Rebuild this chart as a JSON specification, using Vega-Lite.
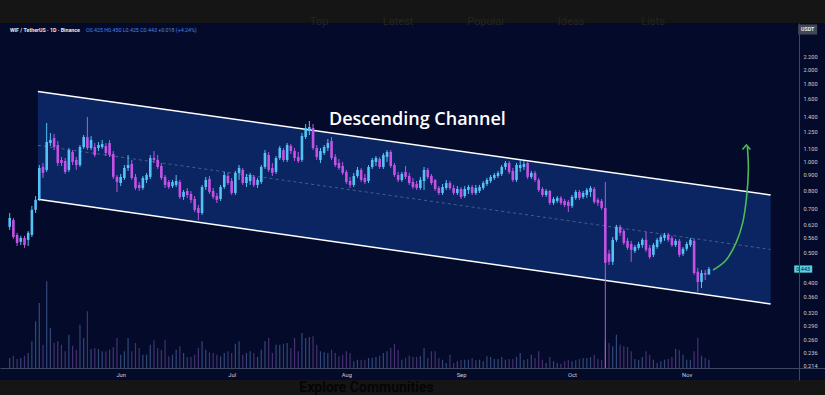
{
  "$schema": "https://vega.github.io/schema/vega-lite/v6.json",
  "width": 825,
  "height": 357,
  "autosize": {"type": "none"},
  "padding": {"left": 0, "right": 0, "top": 23, "bottom": 15},
  "background": "#151515",
  "view": {"fill": "#040b2a", "stroke": null},
  "config": {
    "font": "Roboto",
    "axis": {"grid": false, "ticks": false, "labelFont": "Roboto", "labelFontSize": 5.6, "labelColor": "#c9cdd6", "domainColor": "#3f4760", "domainWidth": 1}
  },
  "datasets": {
    "candles": [
      {"t":"2025-05-02","o":0.609,"h":0.676,"l":0.595,"c":0.651,"v":10},
      {"t":"2025-05-03","o":0.641,"h":0.651,"l":0.556,"c":0.564,"v":12.3},
      {"t":"2025-05-04","o":0.573,"h":0.582,"l":0.527,"c":0.539,"v":9},
      {"t":"2025-05-05","o":0.544,"h":0.569,"l":0.531,"c":0.560,"v":10},
      {"t":"2025-05-06","o":0.560,"h":0.569,"l":0.520,"c":0.531,"v":12.3},
      {"t":"2025-05-07","o":0.552,"h":0.590,"l":0.527,"c":0.582,"v":15},
      {"t":"2025-05-08","o":0.573,"h":0.713,"l":0.564,"c":0.692,"v":26.7},
      {"t":"2025-05-09","o":0.692,"h":0.768,"l":0.676,"c":0.746,"v":46.7},
      {"t":"2025-05-10","o":0.751,"h":0.970,"l":0.740,"c":0.949,"v":65},
      {"t":"2025-05-11","o":0.956,"h":0.985,"l":0.880,"c":0.914,"v":23.3},
      {"t":"2025-05-12","o":0.935,"h":1.332,"l":0.921,"c":1.154,"v":86.7},
      {"t":"2025-05-13","o":1.145,"h":1.235,"l":1.120,"c":1.172,"v":40},
      {"t":"2025-05-14","o":1.189,"h":1.226,"l":1.086,"c":1.111,"v":25},
      {"t":"2025-05-15","o":1.128,"h":1.163,"l":0.963,"c":0.985,"v":26.7},
      {"t":"2025-05-16","o":1.008,"h":1.031,"l":0.963,"c":0.985,"v":23.3},
      {"t":"2025-05-17","o":1.000,"h":1.023,"l":0.907,"c":0.921,"v":16.7},
      {"t":"2025-05-18","o":0.935,"h":1.103,"l":0.921,"c":1.086,"v":33.3},
      {"t":"2025-05-19","o":1.070,"h":1.086,"l":0.970,"c":0.993,"v":22.3},
      {"t":"2025-05-20","o":1.008,"h":1.031,"l":0.935,"c":0.970,"v":18.3},
      {"t":"2025-05-21","o":0.970,"h":1.128,"l":0.956,"c":1.111,"v":43.3},
      {"t":"2025-05-22","o":1.111,"h":1.216,"l":1.095,"c":1.198,"v":30},
      {"t":"2025-05-23","o":1.198,"h":1.393,"l":1.086,"c":1.103,"v":56.7},
      {"t":"2025-05-24","o":1.103,"h":1.207,"l":1.086,"c":1.172,"v":19},
      {"t":"2025-05-25","o":1.111,"h":1.145,"l":1.031,"c":1.046,"v":20},
      {"t":"2025-05-26","o":1.103,"h":1.154,"l":1.078,"c":1.128,"v":19},
      {"t":"2025-05-27","o":1.111,"h":1.172,"l":1.095,"c":1.137,"v":16.7},
      {"t":"2025-05-28","o":1.120,"h":1.145,"l":1.038,"c":1.062,"v":16.7},
      {"t":"2025-05-29","o":1.145,"h":1.172,"l":1.031,"c":1.046,"v":18.3},
      {"t":"2025-05-30","o":1.054,"h":1.078,"l":0.873,"c":0.887,"v":20.7},
      {"t":"2025-05-31","o":0.887,"h":0.900,"l":0.792,"c":0.854,"v":30},
      {"t":"2025-06-01","o":0.847,"h":0.907,"l":0.828,"c":0.887,"v":13.3},
      {"t":"2025-06-02","o":0.880,"h":0.970,"l":0.867,"c":0.949,"v":16.7},
      {"t":"2025-06-03","o":0.949,"h":1.046,"l":0.928,"c":0.970,"v":30},
      {"t":"2025-06-04","o":0.978,"h":1.008,"l":0.867,"c":0.880,"v":16.7},
      {"t":"2025-06-05","o":0.887,"h":0.907,"l":0.804,"c":0.816,"v":25},
      {"t":"2025-06-06","o":0.835,"h":0.854,"l":0.798,"c":0.816,"v":20},
      {"t":"2025-06-07","o":0.816,"h":0.893,"l":0.804,"c":0.880,"v":13.3},
      {"t":"2025-06-08","o":0.867,"h":0.914,"l":0.847,"c":0.900,"v":13.3},
      {"t":"2025-06-09","o":0.887,"h":1.046,"l":0.873,"c":1.023,"v":23.3},
      {"t":"2025-06-10","o":1.023,"h":1.078,"l":0.985,"c":1.008,"v":27.7},
      {"t":"2025-06-11","o":1.008,"h":1.046,"l":0.942,"c":0.956,"v":20},
      {"t":"2025-06-12","o":0.963,"h":0.985,"l":0.867,"c":0.880,"v":18.3},
      {"t":"2025-06-13","o":0.887,"h":0.900,"l":0.816,"c":0.835,"v":28.3},
      {"t":"2025-06-14","o":0.854,"h":0.867,"l":0.810,"c":0.822,"v":11.7},
      {"t":"2025-06-15","o":0.828,"h":0.867,"l":0.816,"c":0.854,"v":13.3},
      {"t":"2025-06-16","o":0.835,"h":0.900,"l":0.822,"c":0.860,"v":18.3},
      {"t":"2025-06-17","o":0.854,"h":0.867,"l":0.751,"c":0.763,"v":21.7},
      {"t":"2025-06-18","o":0.763,"h":0.804,"l":0.746,"c":0.792,"v":15},
      {"t":"2025-06-19","o":0.798,"h":0.816,"l":0.757,"c":0.774,"v":11},
      {"t":"2025-06-20","o":0.780,"h":0.798,"l":0.729,"c":0.746,"v":11},
      {"t":"2025-06-21","o":0.751,"h":0.768,"l":0.681,"c":0.692,"v":13.3},
      {"t":"2025-06-22","o":0.702,"h":0.718,"l":0.641,"c":0.676,"v":20},
      {"t":"2025-06-23","o":0.676,"h":0.835,"l":0.666,"c":0.822,"v":26.7},
      {"t":"2025-06-24","o":0.822,"h":0.887,"l":0.804,"c":0.867,"v":18.3},
      {"t":"2025-06-25","o":0.873,"h":0.893,"l":0.780,"c":0.792,"v":15.7},
      {"t":"2025-06-26","o":0.798,"h":0.816,"l":0.751,"c":0.763,"v":15},
      {"t":"2025-06-27","o":0.768,"h":0.786,"l":0.729,"c":0.746,"v":13.3},
      {"t":"2025-06-28","o":0.751,"h":0.835,"l":0.740,"c":0.822,"v":11.7},
      {"t":"2025-06-29","o":0.822,"h":0.921,"l":0.810,"c":0.900,"v":15},
      {"t":"2025-06-30","o":0.893,"h":0.914,"l":0.835,"c":0.847,"v":16.7},
      {"t":"2025-07-01","o":0.860,"h":0.880,"l":0.774,"c":0.786,"v":15},
      {"t":"2025-07-02","o":0.786,"h":0.928,"l":0.774,"c":0.914,"v":24.3},
      {"t":"2025-07-03","o":0.914,"h":0.970,"l":0.867,"c":0.949,"v":26.7},
      {"t":"2025-07-04","o":0.935,"h":0.949,"l":0.835,"c":0.847,"v":13.3},
      {"t":"2025-07-05","o":0.847,"h":0.907,"l":0.822,"c":0.887,"v":15},
      {"t":"2025-07-06","o":0.860,"h":0.914,"l":0.835,"c":0.900,"v":16.7},
      {"t":"2025-07-07","o":0.887,"h":0.900,"l":0.822,"c":0.835,"v":15},
      {"t":"2025-07-08","o":0.835,"h":0.880,"l":0.816,"c":0.867,"v":11},
      {"t":"2025-07-09","o":0.854,"h":0.970,"l":0.841,"c":0.956,"v":18.3},
      {"t":"2025-07-10","o":0.956,"h":1.086,"l":0.942,"c":1.062,"v":26.7},
      {"t":"2025-07-11","o":1.046,"h":1.070,"l":0.921,"c":0.935,"v":30},
      {"t":"2025-07-12","o":0.949,"h":0.985,"l":0.893,"c":0.914,"v":15},
      {"t":"2025-07-13","o":0.921,"h":1.038,"l":0.907,"c":1.023,"v":23.3},
      {"t":"2025-07-14","o":1.023,"h":1.120,"l":1.008,"c":1.103,"v":23.3},
      {"t":"2025-07-15","o":1.086,"h":1.103,"l":0.993,"c":1.008,"v":24.3},
      {"t":"2025-07-16","o":1.008,"h":1.145,"l":0.993,"c":1.128,"v":25},
      {"t":"2025-07-17","o":1.120,"h":1.137,"l":1.054,"c":1.078,"v":20},
      {"t":"2025-07-18","o":1.078,"h":1.103,"l":1.000,"c":1.023,"v":30},
      {"t":"2025-07-19","o":1.031,"h":1.070,"l":0.985,"c":1.000,"v":16.7},
      {"t":"2025-07-20","o":1.008,"h":1.235,"l":0.993,"c":1.207,"v":35},
      {"t":"2025-07-21","o":1.198,"h":1.322,"l":1.180,"c":1.282,"v":30},
      {"t":"2025-07-22","o":1.254,"h":1.352,"l":1.216,"c":1.292,"v":31},
      {"t":"2025-07-23","o":1.282,"h":1.322,"l":1.086,"c":1.103,"v":31.7},
      {"t":"2025-07-24","o":1.103,"h":1.128,"l":1.008,"c":1.031,"v":23.3},
      {"t":"2025-07-25","o":1.008,"h":1.103,"l":0.985,"c":1.078,"v":16.7},
      {"t":"2025-07-26","o":1.062,"h":1.128,"l":1.046,"c":1.111,"v":15.7},
      {"t":"2025-07-27","o":1.103,"h":1.180,"l":1.078,"c":1.145,"v":15},
      {"t":"2025-07-28","o":1.163,"h":1.198,"l":1.008,"c":1.023,"v":18.3},
      {"t":"2025-07-29","o":1.031,"h":1.054,"l":0.956,"c":0.970,"v":15},
      {"t":"2025-07-30","o":0.985,"h":1.015,"l":0.935,"c":0.949,"v":11.7},
      {"t":"2025-07-31","o":0.963,"h":0.993,"l":0.900,"c":0.914,"v":13.3},
      {"t":"2025-08-01","o":0.921,"h":0.935,"l":0.841,"c":0.854,"v":16.7},
      {"t":"2025-08-02","o":0.860,"h":0.887,"l":0.816,"c":0.835,"v":15},
      {"t":"2025-08-03","o":0.835,"h":0.914,"l":0.822,"c":0.893,"v":6.7},
      {"t":"2025-08-04","o":0.893,"h":0.956,"l":0.880,"c":0.935,"v":8.3},
      {"t":"2025-08-05","o":0.935,"h":0.949,"l":0.854,"c":0.867,"v":8.3},
      {"t":"2025-08-06","o":0.880,"h":0.907,"l":0.841,"c":0.854,"v":7.7},
      {"t":"2025-08-07","o":0.860,"h":0.970,"l":0.847,"c":0.956,"v":10},
      {"t":"2025-08-08","o":0.956,"h":1.023,"l":0.942,"c":1.008,"v":10},
      {"t":"2025-08-09","o":0.993,"h":1.038,"l":0.963,"c":1.023,"v":11},
      {"t":"2025-08-10","o":1.015,"h":1.031,"l":0.942,"c":0.956,"v":12.3},
      {"t":"2025-08-11","o":0.956,"h":1.062,"l":0.942,"c":1.046,"v":15},
      {"t":"2025-08-12","o":1.031,"h":1.086,"l":0.993,"c":1.070,"v":16.7},
      {"t":"2025-08-13","o":1.070,"h":1.086,"l":0.949,"c":0.963,"v":20},
      {"t":"2025-08-14","o":0.970,"h":0.985,"l":0.887,"c":0.900,"v":24.3},
      {"t":"2025-08-15","o":0.900,"h":0.921,"l":0.854,"c":0.867,"v":18.3},
      {"t":"2025-08-16","o":0.867,"h":0.921,"l":0.854,"c":0.907,"v":8.3},
      {"t":"2025-08-17","o":0.921,"h":0.963,"l":0.873,"c":0.887,"v":10},
      {"t":"2025-08-18","o":0.893,"h":0.914,"l":0.835,"c":0.847,"v":12.3},
      {"t":"2025-08-19","o":0.854,"h":0.880,"l":0.810,"c":0.822,"v":11},
      {"t":"2025-08-20","o":0.841,"h":0.860,"l":0.804,"c":0.816,"v":11},
      {"t":"2025-08-21","o":0.816,"h":0.887,"l":0.804,"c":0.867,"v":12},
      {"t":"2025-08-22","o":0.860,"h":0.956,"l":0.804,"c":0.935,"v":20},
      {"t":"2025-08-23","o":0.935,"h":0.949,"l":0.873,"c":0.887,"v":10},
      {"t":"2025-08-24","o":0.893,"h":0.907,"l":0.835,"c":0.847,"v":16.7},
      {"t":"2025-08-25","o":0.867,"h":0.873,"l":0.798,"c":0.810,"v":16.7},
      {"t":"2025-08-26","o":0.816,"h":0.828,"l":0.774,"c":0.786,"v":10},
      {"t":"2025-08-27","o":0.786,"h":0.841,"l":0.774,"c":0.822,"v":8.3},
      {"t":"2025-08-28","o":0.816,"h":0.867,"l":0.804,"c":0.847,"v":5},
      {"t":"2025-08-29","o":0.847,"h":0.860,"l":0.804,"c":0.816,"v":13.3},
      {"t":"2025-08-30","o":0.816,"h":0.835,"l":0.774,"c":0.786,"v":5},
      {"t":"2025-08-31","o":0.786,"h":0.828,"l":0.774,"c":0.810,"v":6.7},
      {"t":"2025-09-01","o":0.810,"h":0.822,"l":0.751,"c":0.763,"v":8.3},
      {"t":"2025-09-02","o":0.768,"h":0.828,"l":0.757,"c":0.810,"v":8.3},
      {"t":"2025-09-03","o":0.804,"h":0.835,"l":0.780,"c":0.822,"v":8.3},
      {"t":"2025-09-04","o":0.822,"h":0.835,"l":0.774,"c":0.786,"v":10},
      {"t":"2025-09-05","o":0.786,"h":0.835,"l":0.774,"c":0.816,"v":7.7},
      {"t":"2025-09-06","o":0.798,"h":0.835,"l":0.786,"c":0.822,"v":8.3},
      {"t":"2025-09-07","o":0.816,"h":0.860,"l":0.804,"c":0.847,"v":6.7},
      {"t":"2025-09-08","o":0.841,"h":0.880,"l":0.828,"c":0.867,"v":11.7},
      {"t":"2025-09-09","o":0.860,"h":0.900,"l":0.847,"c":0.887,"v":11},
      {"t":"2025-09-10","o":0.880,"h":0.914,"l":0.867,"c":0.900,"v":9},
      {"t":"2025-09-11","o":0.893,"h":0.928,"l":0.880,"c":0.914,"v":9},
      {"t":"2025-09-12","o":0.907,"h":0.970,"l":0.893,"c":0.956,"v":11},
      {"t":"2025-09-13","o":0.956,"h":1.000,"l":0.935,"c":0.985,"v":8.3},
      {"t":"2025-09-14","o":0.985,"h":1.000,"l":0.907,"c":0.921,"v":9},
      {"t":"2025-09-15","o":0.928,"h":0.949,"l":0.854,"c":0.867,"v":9},
      {"t":"2025-09-16","o":0.867,"h":0.985,"l":0.854,"c":0.970,"v":11},
      {"t":"2025-09-17","o":0.949,"h":1.008,"l":0.921,"c":0.970,"v":15},
      {"t":"2025-09-18","o":0.956,"h":1.000,"l":0.935,"c":0.978,"v":8.3},
      {"t":"2025-09-19","o":0.985,"h":1.000,"l":0.873,"c":0.887,"v":9},
      {"t":"2025-09-20","o":0.887,"h":0.928,"l":0.873,"c":0.914,"v":13.3},
      {"t":"2025-09-21","o":0.914,"h":0.928,"l":0.854,"c":0.867,"v":10},
      {"t":"2025-09-22","o":0.867,"h":0.880,"l":0.792,"c":0.804,"v":16.7},
      {"t":"2025-09-23","o":0.810,"h":0.822,"l":0.763,"c":0.774,"v":8.3},
      {"t":"2025-09-24","o":0.774,"h":0.810,"l":0.763,"c":0.798,"v":5},
      {"t":"2025-09-25","o":0.798,"h":0.804,"l":0.718,"c":0.729,"v":11},
      {"t":"2025-09-26","o":0.729,"h":0.763,"l":0.718,"c":0.751,"v":6.7},
      {"t":"2025-09-27","o":0.740,"h":0.768,"l":0.729,"c":0.757,"v":5},
      {"t":"2025-09-28","o":0.757,"h":0.768,"l":0.718,"c":0.729,"v":4.3},
      {"t":"2025-09-29","o":0.740,"h":0.751,"l":0.707,"c":0.718,"v":6.7},
      {"t":"2025-09-30","o":0.734,"h":0.746,"l":0.681,"c":0.713,"v":8.3},
      {"t":"2025-10-01","o":0.713,"h":0.774,"l":0.702,"c":0.763,"v":6.7},
      {"t":"2025-10-02","o":0.757,"h":0.804,"l":0.746,"c":0.792,"v":7.7},
      {"t":"2025-10-03","o":0.792,"h":0.804,"l":0.746,"c":0.757,"v":9},
      {"t":"2025-10-04","o":0.763,"h":0.798,"l":0.751,"c":0.786,"v":10},
      {"t":"2025-10-05","o":0.774,"h":0.816,"l":0.757,"c":0.804,"v":10},
      {"t":"2025-10-06","o":0.792,"h":0.828,"l":0.763,"c":0.816,"v":11},
      {"t":"2025-10-07","o":0.810,"h":0.822,"l":0.724,"c":0.734,"v":13.3},
      {"t":"2025-10-08","o":0.746,"h":0.757,"l":0.713,"c":0.729,"v":9},
      {"t":"2025-10-09","o":0.740,"h":0.751,"l":0.692,"c":0.702,"v":8.3},
      {"t":"2025-10-10","o":0.702,"h":0.854,"l":0.21,"c":0.464,"v":28},
      {"t":"2025-10-11","o":0.497,"h":0.512,"l":0.457,"c":0.468,"v":25},
      {"t":"2025-10-12","o":0.468,"h":0.564,"l":0.457,"c":0.552,"v":21.7},
      {"t":"2025-10-13","o":0.552,"h":0.618,"l":0.544,"c":0.609,"v":33.3},
      {"t":"2025-10-14","o":0.609,"h":0.618,"l":0.569,"c":0.582,"v":23.3},
      {"t":"2025-10-15","o":0.590,"h":0.599,"l":0.531,"c":0.539,"v":21.7},
      {"t":"2025-10-16","o":0.548,"h":0.560,"l":0.512,"c":0.520,"v":21},
      {"t":"2025-10-17","o":0.535,"h":0.548,"l":0.468,"c":0.512,"v":16.7},
      {"t":"2025-10-18","o":0.508,"h":0.531,"l":0.500,"c":0.523,"v":9},
      {"t":"2025-10-19","o":0.520,"h":0.544,"l":0.512,"c":0.535,"v":8.3},
      {"t":"2025-10-20","o":0.531,"h":0.560,"l":0.520,"c":0.552,"v":11},
      {"t":"2025-10-21","o":0.552,"h":0.586,"l":0.504,"c":0.512,"v":16.7},
      {"t":"2025-10-22","o":0.520,"h":0.531,"l":0.478,"c":0.485,"v":13.3},
      {"t":"2025-10-23","o":0.493,"h":0.539,"l":0.485,"c":0.531,"v":8.3},
      {"t":"2025-10-24","o":0.523,"h":0.560,"l":0.516,"c":0.552,"v":5},
      {"t":"2025-10-25","o":0.544,"h":0.573,"l":0.535,"c":0.564,"v":6.7},
      {"t":"2025-10-26","o":0.560,"h":0.582,"l":0.548,"c":0.573,"v":8.3},
      {"t":"2025-10-27","o":0.573,"h":0.582,"l":0.544,"c":0.552,"v":9},
      {"t":"2025-10-28","o":0.560,"h":0.569,"l":0.523,"c":0.531,"v":11},
      {"t":"2025-10-29","o":0.531,"h":0.556,"l":0.523,"c":0.548,"v":19},
      {"t":"2025-10-30","o":0.548,"h":0.556,"l":0.485,"c":0.493,"v":17.7},
      {"t":"2025-10-31","o":0.497,"h":0.523,"l":0.489,"c":0.516,"v":13.3},
      {"t":"2025-11-01","o":0.516,"h":0.544,"l":0.508,"c":0.535,"v":8.3},
      {"t":"2025-11-02","o":0.531,"h":0.560,"l":0.523,"c":0.552,"v":8.3},
      {"t":"2025-11-03","o":0.548,"h":0.556,"l":0.424,"c":0.430,"v":16.7},
      {"t":"2025-11-04","o":0.434,"h":0.447,"l":0.373,"c":0.402,"v":30},
      {"t":"2025-11-05","o":0.402,"h":0.440,"l":0.384,"c":0.430,"v":12.3},
      {"t":"2025-11-06","o":0.430,"h":0.440,"l":0.408,"c":0.425,"v":10},
      {"t":"2025-11-07","o":0.425,"h":0.450,"l":0.425,"c":0.443,"v":8.3}
    ],
    "channel": [
      {"t":"2025-05-09T15:00:00Z","up":1.688,"mid":1.125,"lo":0.7495},
      {"t":"2025-11-23T16:20:00Z","up":0.774,"mid":0.5136,"lo":0.3404}
    ],
    "arrow": [
      {"i":1,"t":"2025-11-08T02:40:00Z","p":0.440},
      {"i":2,"t":"2025-11-11T15:50:00Z","p":0.4746},
      {"i":3,"t":"2025-11-14T08:00:00Z","p":0.5394},
      {"i":4,"t":"2025-11-16T03:00:00Z","p":0.6271},
      {"i":5,"t":"2025-11-17T04:30:00Z","p":0.7626},
      {"i":6,"t":"2025-11-17T16:00:00Z","p":0.9345},
      {"i":7,"t":"2025-11-17T09:40:00Z","p":1.1113}
    ]
  },
  "layer": [
    {
      "data": {"name": "channel"},
      "mark": {"type": "area", "fill": "#0a2561", "opacity": 1},
      "encoding": {
        "x": {"field": "t", "type": "temporal", "title": null, "scale": {"type": "utc", "domain": [{"year":2025,"month":"apr","date":30,"hours":17,"minutes":36,"utc":true},{"year":2025,"month":"dec","date":7,"hours":0,"minutes":40,"utc":true}]},
          "axis": {"orient": "bottom", "offset": -12, "zindex": 1, "format": "%b", "labelPadding": 3, "labelFontSize": 5.8, "labelFlush": false, "labelOverlap": false,
            "values": [{"year":2025,"month":"jun","date":1,"utc":true},{"year":2025,"month":"jul","date":1,"utc":true},{"year":2025,"month":"aug","date":1,"utc":true},{"year":2025,"month":"sep","date":1,"utc":true},{"year":2025,"month":"oct","date":1,"utc":true},{"year":2025,"month":"nov","date":1,"utc":true}]}},
        "y": {"field": "up", "type": "quantitative", "title": null, "scale": {"type": "log", "domain": [0.192, 2.829], "nice": false, "zero": false},
          "axis": {"orient": "right", "offset": -26, "zindex": 1, "format": ".3f", "labelPadding": 4, "labelAlign": "left", "labelOverlap": false, "labelFlush": false, "labelBound": false,
            "values": [2.2, 2.0, 1.8, 1.6, 1.4, 1.25, 1.1, 1.0, 0.9, 0.8, 0.7, 0.62, 0.56, 0.5, 0.4, 0.36, 0.32, 0.29, 0.26, 0.236, 0.214]}},
        "y2": {"field": "lo"}
      }
    },
    {
      "data": {"name": "candles"},
      "mark": {"type": "rule", "strokeWidth": 1.2, "opacity": 0.5},
      "encoding": {
        "x": {"field": "t", "type": "temporal", "title": null, "scale": {"type": "utc", "domain": [{"year":2025,"month":"apr","date":30,"hours":17,"minutes":36,"utc":true},{"year":2025,"month":"dec","date":7,"hours":0,"minutes":40,"utc":true}]}},
        "y": {"field": "v", "type": "quantitative", "title": null, "axis": null, "scale": {"domain": [-12, 345], "nice": false, "zero": false}},
        "y2": {"datum": 0},
        "color": {"condition": {"test": "datum.c >= datum.o", "value": "#5f86c8"}, "value": "#8a55b8"}
      }
    },
    {
      "data": {"name": "channel"},
      "mark": {"type": "line", "stroke": "#8e9ab8", "strokeWidth": 0.8, "strokeDash": [3, 3], "opacity": 0.6},
      "encoding": {
        "x": {"field": "t", "type": "temporal", "title": null, "scale": {"type": "utc", "domain": [{"year":2025,"month":"apr","date":30,"hours":17,"minutes":36,"utc":true},{"year":2025,"month":"dec","date":7,"hours":0,"minutes":40,"utc":true}]}},
        "y": {"field": "mid", "type": "quantitative", "title": null, "axis": null, "scale": {"type": "log", "domain": [0.192, 2.829], "nice": false, "zero": false}}
      }
    },
    {
      "data": {"name": "channel"},
      "mark": {"type": "line", "stroke": "#ffffff", "strokeWidth": 1.5},
      "encoding": {
        "x": {"field": "t", "type": "temporal", "title": null, "scale": {"type": "utc", "domain": [{"year":2025,"month":"apr","date":30,"hours":17,"minutes":36,"utc":true},{"year":2025,"month":"dec","date":7,"hours":0,"minutes":40,"utc":true}]}},
        "y": {"field": "up", "type": "quantitative", "title": null, "axis": null, "scale": {"type": "log", "domain": [0.192, 2.829], "nice": false, "zero": false}}
      }
    },
    {
      "data": {"name": "channel"},
      "mark": {"type": "line", "stroke": "#ffffff", "strokeWidth": 1.5},
      "encoding": {
        "x": {"field": "t", "type": "temporal", "title": null, "scale": {"type": "utc", "domain": [{"year":2025,"month":"apr","date":30,"hours":17,"minutes":36,"utc":true},{"year":2025,"month":"dec","date":7,"hours":0,"minutes":40,"utc":true}]}},
        "y": {"field": "lo", "type": "quantitative", "title": null, "axis": null, "scale": {"type": "log", "domain": [0.192, 2.829], "nice": false, "zero": false}}
      }
    },
    {
      "data": {"name": "candles"},
      "mark": {"type": "rule", "strokeWidth": 1},
      "encoding": {
        "x": {"field": "t", "type": "temporal", "title": null, "scale": {"type": "utc", "domain": [{"year":2025,"month":"apr","date":30,"hours":17,"minutes":36,"utc":true},{"year":2025,"month":"dec","date":7,"hours":0,"minutes":40,"utc":true}]}},
        "y": {"field": "l", "type": "quantitative", "title": null, "axis": null, "scale": {"type": "log", "domain": [0.192, 2.829], "nice": false, "zero": false}},
        "y2": {"field": "h"},
        "color": {"condition": {"test": "datum.c >= datum.o", "value": "#55c2f5"}, "value": "#c452e6"}
      }
    },
    {
      "data": {"name": "candles"},
      "mark": {"type": "bar", "width": 2.6},
      "encoding": {
        "x": {"field": "t", "type": "temporal", "title": null, "scale": {"type": "utc", "domain": [{"year":2025,"month":"apr","date":30,"hours":17,"minutes":36,"utc":true},{"year":2025,"month":"dec","date":7,"hours":0,"minutes":40,"utc":true}]}},
        "y": {"field": "o", "type": "quantitative", "title": null, "axis": null, "scale": {"type": "log", "domain": [0.192, 2.829], "nice": false, "zero": false}},
        "y2": {"field": "c"},
        "color": {"condition": {"test": "datum.c >= datum.o", "value": "#55c2f5"}, "value": "#c452e6"}
      }
    },
    {
      "data": {"name": "arrow"},
      "mark": {"type": "line", "stroke": "#4dbb55", "strokeWidth": 1.6, "interpolate": "cardinal"},
      "encoding": {
        "x": {"field": "t", "type": "temporal", "title": null, "scale": {"type": "utc", "domain": [{"year":2025,"month":"apr","date":30,"hours":17,"minutes":36,"utc":true},{"year":2025,"month":"dec","date":7,"hours":0,"minutes":40,"utc":true}]}},
        "y": {"field": "p", "type": "quantitative", "title": null, "axis": null, "scale": {"type": "log", "domain": [0.192, 2.829], "nice": false, "zero": false}},
        "order": {"field": "i"}
      }
    },
    {
      "data": {"values": [{}]},
      "mark": {"type": "point", "shape": "M-0.75,0.85L0,0L0.75,0.85", "filled": false, "stroke": "#4dbb55", "strokeWidth": 1.5, "size": 110, "opacity": 1},
      "encoding": {
        "x": {"datum": {"year":2025,"month":"nov","date":17,"hours":3,"minutes":10,"utc":true}, "type": "temporal", "title": null, "scale": {"type": "utc", "domain": [{"year":2025,"month":"apr","date":30,"hours":17,"minutes":36,"utc":true},{"year":2025,"month":"dec","date":7,"hours":0,"minutes":40,"utc":true}]}},
        "y": {"datum": 1.1281, "type": "quantitative", "title": null, "axis": null, "scale": {"type": "log", "domain": [0.192, 2.829], "nice": false, "zero": false}}
      }
    },
    {
      "data": {"values": [{}]},
      "mark": {"type": "text", "text": "Descending Channel", "font": "Open Sans", "fontSize": 18, "fontWeight": 600, "fill": "#ffffff", "align": "center", "baseline": "alphabetic"},
      "encoding": {
        "x": {"datum": {"year":2025,"month":"aug","date":20,"hours":5,"utc":true}, "type": "temporal", "title": null, "scale": {"type": "utc", "domain": [{"year":2025,"month":"apr","date":30,"hours":17,"minutes":36,"utc":true},{"year":2025,"month":"dec","date":7,"hours":0,"minutes":40,"utc":true}]}},
        "y": {"datum": 1.3117, "type": "quantitative", "title": null, "axis": null, "scale": {"type": "log", "domain": [0.192, 2.829], "nice": false, "zero": false}}
      }
    },
    {
      "data": {"values": [{}]},
      "mark": {"type": "text", "text": "WIF / TetherUS · 1D · Binance", "fontSize": 5.3, "fontWeight": "bold", "fill": "#e6e8ee", "align": "left", "baseline": "middle"},
      "encoding": {
        "x": {"datum": {"year":2025,"month":"may","date":2,"hours":1,"minutes":38,"utc":true}, "type": "temporal", "title": null, "scale": {"type": "utc", "domain": [{"year":2025,"month":"apr","date":30,"hours":17,"minutes":36,"utc":true},{"year":2025,"month":"dec","date":7,"hours":0,"minutes":40,"utc":true}]}},
        "y": {"datum": 2.6837, "type": "quantitative", "title": null, "axis": null, "scale": {"type": "log", "domain": [0.192, 2.829], "nice": false, "zero": false}}
      }
    },
    {
      "data": {"values": [{}]},
      "mark": {"type": "text", "text": "O0.425  H0.450  L0.425  C0.443  +0.018 (+4.24%)", "fontSize": 5.3, "fill": "#4a82e6", "align": "left", "baseline": "middle"},
      "encoding": {
        "x": {"datum": {"year":2025,"month":"may","date":22,"hours":15,"minutes":10,"utc":true}, "type": "temporal", "title": null, "scale": {"type": "utc", "domain": [{"year":2025,"month":"apr","date":30,"hours":17,"minutes":36,"utc":true},{"year":2025,"month":"dec","date":7,"hours":0,"minutes":40,"utc":true}]}},
        "y": {"datum": 2.6837, "type": "quantitative", "title": null, "axis": null, "scale": {"type": "log", "domain": [0.192, 2.829], "nice": false, "zero": false}}
      }
    },
    {
      "data": {"values": [{}]},
      "mark": {"type": "point", "shape": "M-1,-0.53H1V0.53H-1Z", "filled": true, "fill": "#434852", "stroke": null, "size": 361, "opacity": 1},
      "encoding": {
        "x": {"datum": {"year":2025,"month":"dec","date":3,"hours":16,"minutes":33,"utc":true}, "type": "temporal", "title": null, "scale": {"type": "utc", "domain": [{"year":2025,"month":"apr","date":30,"hours":17,"minutes":36,"utc":true},{"year":2025,"month":"dec","date":7,"hours":0,"minutes":40,"utc":true}]}},
        "y": {"datum": 2.6938, "type": "quantitative", "title": null, "axis": null, "scale": {"type": "log", "domain": [0.192, 2.829], "nice": false, "zero": false}}
      }
    },
    {
      "data": {"values": [{}]},
      "mark": {"type": "text", "text": "USDT", "fontSize": 5.3, "fontWeight": "bold", "fill": "#e8e8ec", "align": "center", "baseline": "middle"},
      "encoding": {
        "x": {"datum": {"year":2025,"month":"dec","date":3,"hours":16,"minutes":33,"utc":true}, "type": "temporal", "title": null, "scale": {"type": "utc", "domain": [{"year":2025,"month":"apr","date":30,"hours":17,"minutes":36,"utc":true},{"year":2025,"month":"dec","date":7,"hours":0,"minutes":40,"utc":true}]}},
        "y": {"datum": 2.6938, "type": "quantitative", "title": null, "axis": null, "scale": {"type": "log", "domain": [0.192, 2.829], "nice": false, "zero": false}}
      }
    },
    {
      "data": {"values": [{}]},
      "mark": {"type": "point", "shape": "M-1,-0.4H1V0.4H-1Z", "filled": true, "fill": "#55d3e3", "stroke": null, "size": 324, "opacity": 1},
      "encoding": {
        "x": {"datum": {"year":2025,"month":"dec","date":2,"hours":11,"minutes":46,"utc":true}, "type": "temporal", "title": null, "scale": {"type": "utc", "domain": [{"year":2025,"month":"apr","date":30,"hours":17,"minutes":36,"utc":true},{"year":2025,"month":"dec","date":7,"hours":0,"minutes":40,"utc":true}]}},
        "y": {"datum": 0.443, "type": "quantitative", "title": null, "axis": null, "scale": {"type": "log", "domain": [0.192, 2.829], "nice": false, "zero": false}}
      }
    },
    {
      "data": {"values": [{}]},
      "mark": {"type": "text", "text": "0.443", "fontSize": 5.5, "fill": "#061634", "align": "center", "baseline": "middle"},
      "encoding": {
        "x": {"datum": {"year":2025,"month":"dec","date":2,"hours":11,"minutes":46,"utc":true}, "type": "temporal", "title": null, "scale": {"type": "utc", "domain": [{"year":2025,"month":"apr","date":30,"hours":17,"minutes":36,"utc":true},{"year":2025,"month":"dec","date":7,"hours":0,"minutes":40,"utc":true}]}},
        "y": {"datum": 0.443, "type": "quantitative", "title": null, "axis": null, "scale": {"type": "log", "domain": [0.192, 2.829], "nice": false, "zero": false}}
      }
    },
    {
      "data": {"values": [{}]},
      "mark": {"type": "text", "text": "Top", "fontSize": 11, "fill": "#242424", "align": "center", "baseline": "alphabetic"},
      "encoding": {
        "x": {"datum": {"year":2025,"month":"jul","date":24,"hours":15,"minutes":36,"utc":true}, "type": "temporal", "title": null, "scale": {"type": "utc", "domain": [{"year":2025,"month":"apr","date":30,"hours":17,"minutes":36,"utc":true},{"year":2025,"month":"dec","date":7,"hours":0,"minutes":40,"utc":true}]}},
        "y": {"datum": 2.7868, "type": "quantitative", "title": null, "axis": null, "scale": {"type": "log", "domain": [0.192, 2.829], "nice": false, "zero": false}}
      }
    },
    {
      "data": {"values": [{}]},
      "mark": {"type": "text", "text": "Latest", "fontSize": 11, "fill": "#242424", "align": "center", "baseline": "alphabetic"},
      "encoding": {
        "x": {"datum": {"year":2025,"month":"aug","date":15,"utc":true}, "type": "temporal", "title": null, "scale": {"type": "utc", "domain": [{"year":2025,"month":"apr","date":30,"hours":17,"minutes":36,"utc":true},{"year":2025,"month":"dec","date":7,"hours":0,"minutes":40,"utc":true}]}},
        "y": {"datum": 2.7868, "type": "quantitative", "title": null, "axis": null, "scale": {"type": "log", "domain": [0.192, 2.829], "nice": false, "zero": false}}
      }
    },
    {
      "data": {"values": [{}]},
      "mark": {"type": "text", "text": "Popular", "fontSize": 11, "fill": "#242424", "align": "center", "baseline": "alphabetic"},
      "encoding": {
        "x": {"datum": {"year":2025,"month":"sep","date":7,"hours":18,"minutes":30,"utc":true}, "type": "temporal", "title": null, "scale": {"type": "utc", "domain": [{"year":2025,"month":"apr","date":30,"hours":17,"minutes":36,"utc":true},{"year":2025,"month":"dec","date":7,"hours":0,"minutes":40,"utc":true}]}},
        "y": {"datum": 2.7868, "type": "quantitative", "title": null, "axis": null, "scale": {"type": "log", "domain": [0.192, 2.829], "nice": false, "zero": false}}
      }
    },
    {
      "data": {"values": [{}]},
      "mark": {"type": "text", "text": "Ideas", "fontSize": 11, "fill": "#242424", "align": "center", "baseline": "alphabetic"},
      "encoding": {
        "x": {"datum": {"year":2025,"month":"sep","date":30,"hours":17,"minutes":45,"utc":true}, "type": "temporal", "title": null, "scale": {"type": "utc", "domain": [{"year":2025,"month":"apr","date":30,"hours":17,"minutes":36,"utc":true},{"year":2025,"month":"dec","date":7,"hours":0,"minutes":40,"utc":true}]}},
        "y": {"datum": 2.7868, "type": "quantitative", "title": null, "axis": null, "scale": {"type": "log", "domain": [0.192, 2.829], "nice": false, "zero": false}}
      }
    },
    {
      "data": {"values": [{}]},
      "mark": {"type": "text", "text": "Lists", "fontSize": 11, "fill": "#242424", "align": "center", "baseline": "alphabetic"},
      "encoding": {
        "x": {"datum": {"year":2025,"month":"oct","date":22,"hours":21,"minutes":36,"utc":true}, "type": "temporal", "title": null, "scale": {"type": "utc", "domain": [{"year":2025,"month":"apr","date":30,"hours":17,"minutes":36,"utc":true},{"year":2025,"month":"dec","date":7,"hours":0,"minutes":40,"utc":true}]}},
        "y": {"datum": 2.7868, "type": "quantitative", "title": null, "axis": null, "scale": {"type": "log", "domain": [0.192, 2.829], "nice": false, "zero": false}}
      }
    },
    {
      "data": {"values": [{}]},
      "mark": {"type": "text", "text": "Explore Communities", "fontSize": 14, "fontWeight": "bold", "fill": "#050505", "align": "center", "baseline": "alphabetic"},
      "encoding": {
        "x": {"datum": {"year":2025,"month":"aug","date":6,"hours":11,"utc":true}, "type": "temporal", "title": null, "scale": {"type": "utc", "domain": [{"year":2025,"month":"apr","date":30,"hours":17,"minutes":36,"utc":true},{"year":2025,"month":"dec","date":7,"hours":0,"minutes":40,"utc":true}]}},
        "y": {"datum": 0.1754, "type": "quantitative", "title": null, "axis": null, "scale": {"type": "log", "domain": [0.192, 2.829], "nice": false, "zero": false}}
      }
    }
  ],
  "resolve": {"scale": {"y": "independent"}, "axis": {"y": "independent"}}
}
